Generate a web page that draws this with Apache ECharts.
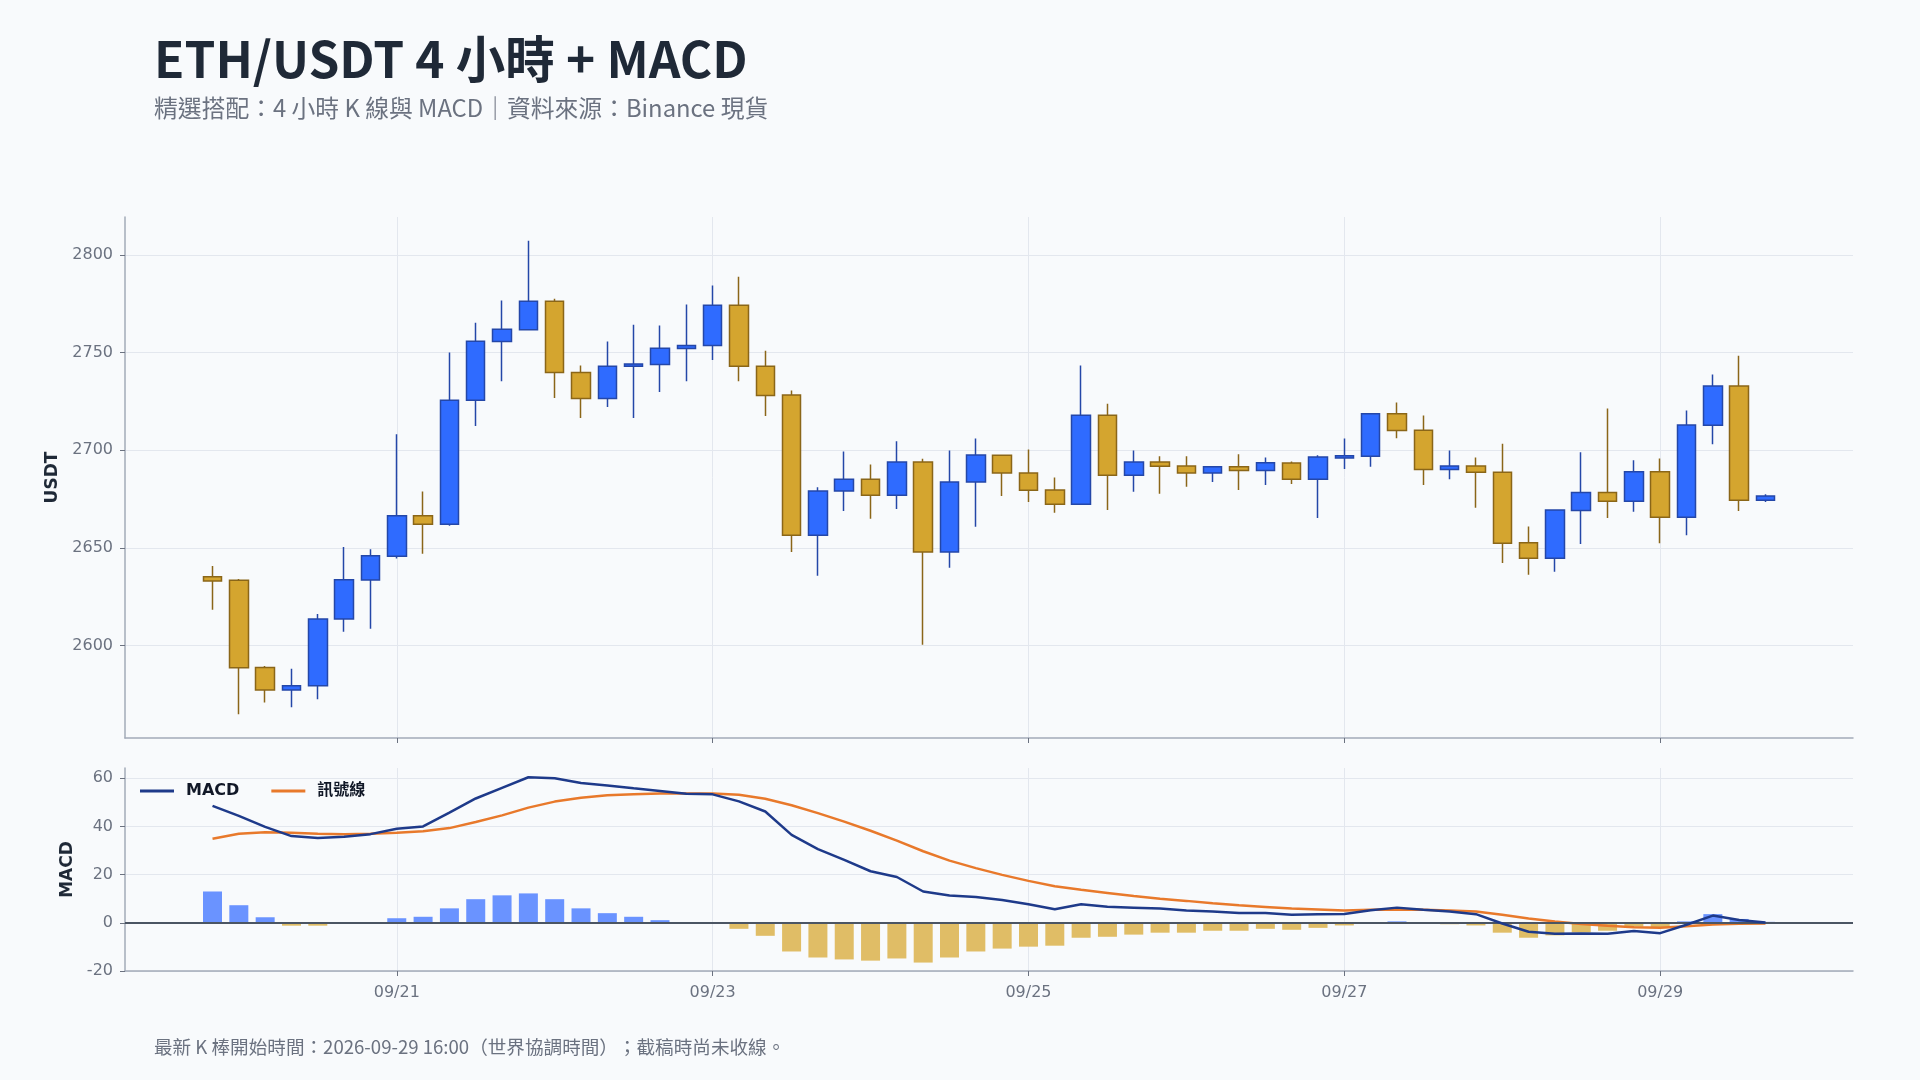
<!DOCTYPE html>
<html>
<head>
<meta charset="utf-8">
<script src="https://cdn.jsdelivr.net/npm/echarts@6/dist/echarts.min.js"></script>
<style>
html,body{margin:0;padding:0;background:#f8fafc;}
#chart{width:1920px;height:1080px;}
</style>
</head>
<body>
<div id="chart"></div>
<script>
// ---- data (4h candles, UTC) ----
const startTime = Date.UTC(2026, 8, 19, 20, 0, 0);
const stepMs = 4 * 3600 * 1000;

const opens  = [2635.2,2633.4,2588.7,2577.2,2579.4,2613.6,2633.5,2645.7,2666.4,2662.1,
                2725.6,2755.7,2761.8,2776.3,2739.9,2726.5,2743.0,2744.0,2752.1,2753.7,
                2774.3,2743.1,2728.3,2656.5,2679.1,2685.2,2676.9,2694.0,2647.9,2683.8,
                2697.4,2688.4,2679.6,2672.3,2718.0,2687.2,2694.0,2692.0,2688.3,2691.5,
                2689.7,2693.5,2685.2,2696.1,2696.9,2718.7,2710.3,2690.2,2692.0,2688.8,
                2652.6,2644.7,2669.2,2678.4,2673.9,2689.0,2665.7,2712.8,2732.9,2674.4];
const closes = [2633.0,2588.5,2577.2,2579.4,2613.6,2633.7,2645.9,2666.4,2662.1,2725.6,
                2755.9,2762.0,2776.3,2739.9,2726.5,2743.1,2744.2,2752.3,2753.7,2774.3,
                2743.0,2728.1,2656.5,2679.1,2685.2,2676.9,2694.0,2647.9,2683.8,2697.6,
                2688.3,2679.5,2672.3,2718.0,2687.2,2694.0,2691.8,2688.3,2691.5,2689.7,
                2693.6,2685.2,2696.5,2697.2,2718.7,2710.1,2690.2,2692.0,2688.8,2652.4,
                2644.7,2669.4,2678.4,2673.9,2689.0,2665.7,2713.0,2732.9,2674.4,2676.6];
const lows   = [2618.3,2564.7,2570.8,2568.3,2572.4,2607.0,2608.6,2644.5,2647.0,2661.3,
                2712.5,2735.4,2761.5,2726.8,2716.6,2722.2,2716.6,2729.9,2735.4,2746.2,
                2735.4,2717.5,2647.9,2635.7,2668.9,2664.9,2669.9,2600.4,2639.8,2660.8,
                2676.6,2673.5,2668.0,2672.0,2669.4,2678.7,2677.7,2681.3,2683.8,2679.6,
                2682.2,2682.7,2665.3,2690.4,2691.5,2706.2,2682.2,2685.2,2670.5,2642.3,
                2636.2,2637.7,2652.0,2665.3,2668.5,2652.4,2656.5,2703.1,2668.9,2673.5];
const highs  = [2640.7,2634.0,2589.5,2588.0,2616.1,2650.4,2649.3,2708.2,2678.9,2750.1,
                2765.4,2776.7,2807.4,2777.6,2743.5,2755.7,2764.3,2763.9,2774.7,2784.4,
                2788.9,2751.0,2730.6,2681.1,2699.4,2692.7,2704.6,2695.6,2699.9,2706.0,
                2697.8,2700.4,2686.1,2743.5,2723.9,2699.9,2696.9,2696.9,2691.8,2697.9,
                2696.3,2694.3,2697.4,2706.0,2719.0,2724.5,2717.8,2699.9,2696.3,2703.4,
                2661.0,2669.8,2699.0,2721.4,2694.9,2695.8,2720.4,2738.8,2748.5,2677.5];

const macdLine   = [48.5,44.4,39.8,36.0,35.2,35.7,36.8,39.0,40.0,45.7,
                    51.6,56.0,60.4,60.0,58.0,57.0,55.8,54.7,53.6,53.3,
                    50.4,46.2,36.5,30.6,26.1,21.4,19.0,13.0,11.3,10.7,
                    9.5,7.7,5.6,7.7,6.7,6.3,5.9,5.1,4.7,4.1,
                    4.1,3.3,3.6,3.7,5.2,6.3,5.4,4.7,3.6,-0.3,
                    -3.7,-4.5,-4.4,-4.5,-3.4,-4.3,-0.8,3.0,1.2,0.1];
const signalLine = [34.9,37.0,37.6,37.4,37.0,36.8,37.0,37.4,38.0,39.3,
                    41.8,44.6,47.8,50.3,51.9,52.9,53.4,53.7,53.7,53.7,
                    53.1,51.5,48.8,45.5,42.0,38.2,34.1,29.7,25.8,22.7,
                    19.9,17.4,15.2,13.7,12.4,11.1,10.0,9.1,8.1,7.3,
                    6.6,5.9,5.5,5.1,5.4,5.5,5.4,5.1,4.7,3.3,
                    1.8,0.5,-0.5,-1.2,-1.8,-2.1,-1.4,-0.7,-0.4,-0.3];
const histogram  = [13.0,7.3,2.3,-1.2,-1.2,-0.3,0.2,1.9,2.5,6.0,
                    9.8,11.4,12.2,9.8,6.0,4.0,2.5,1.1,-0.1,-0.4,
                    -2.5,-5.4,-11.9,-14.4,-15.2,-15.7,-14.8,-16.5,-14.4,-11.9,
                    -10.7,-9.9,-9.5,-6.2,-5.8,-4.9,-4.1,-4.1,-3.3,-3.3,
                    -2.5,-2.9,-2.1,-1.1,-0.2,0.6,0.0,-0.6,-1.1,-4.1,
                    -6.2,-5.2,-4.0,-3.3,-1.6,-2.2,0.6,3.6,1.6,0.4];

// tick labels
const xTickDates  = ['2026-09-21', '2026-09-23', '2026-09-25', '2026-09-27', '2026-09-29'];
const priceTicks  = [2600, 2650, 2700, 2750, 2800];
const macdTicks   = [-20, 0, 20, 40, 60];

const titleText  = 'ETH/USDT 4 小時 + MACD';
const subText    = '精選搭配：4 小時 K 線與 MACD｜資料來源：Binance 現貨';
const footerText = '最新 K 棒開始時間：2026-09-29 16:00（世界協調時間）；截稿時尚未收線。';

// ---- derived ----
const times = opens.map((_, i) => startTime + i * stepMs);
const candleData = times.map((t, i) => [t, opens[i], closes[i], lows[i], highs[i]]);
const macdData = times.map((t, i) => [t, macdLine[i]]);
const signalData = times.map((t, i) => [t, signalLine[i]]);
const histData = times.map((t, i) => [t, histogram[i]]);
const xTickValues = xTickDates.map(s => Date.parse(s + 'T00:00:00Z'));

const HOUR = 3600 * 1000;
const xPad = 13.3 * HOUR;
const xMin = times[0] - xPad;
const xMax = times[times.length - 1] + xPad;

const pLo = Math.min(...lows), pHi = Math.max(...highs);
const pPad = (pHi - pLo) * 0.05;
const allM = macdLine.concat(signalLine, histogram);
const mHi = Math.max(...allM), mLo = Math.min(...allM);
const mMax = mHi + (mHi - mLo) * 0.05;

const pad2 = n => (n < 10 ? '0' : '') + n;
const axisGray = '#a3abb8';
const gridGray = '#e3e7ee';
const labelGray = '#6b7280';
const cjk = '"Noto Sans CJK TC", "Noto Sans CJK SC", sans-serif';
const dv = '"DejaVu Sans", "Noto Sans CJK TC", sans-serif';

function xAxisCfg(idx, showLabel) {
  return {
    type: 'value', gridIndex: idx, min: xMin, max: xMax, scale: true,
    axisLine: { show: true, onZero: false, lineStyle: { color: axisGray, width: 1.5 } },
    axisTick: { show: true, length: 5, customValues: xTickValues, lineStyle: { color: '#6b7280' } },
    axisLabel: {
      show: showLabel, customValues: xTickValues, fontFamily: dv, fontSize: 16, color: labelGray, margin: 14,
      formatter: v => { const d = new Date(v); return pad2(d.getUTCMonth() + 1) + '/' + pad2(d.getUTCDate()); }
    },
    splitLine: { show: true, lineStyle: { color: gridGray, width: 1 } }
  };
}

function yAxisCfg(idx, mn, mx, name, gap, ticks) {
  return {
    type: 'value', gridIndex: idx, min: mn, max: mx,
    name: name, nameLocation: 'middle', nameGap: gap,
    nameTextStyle: { fontFamily: dv, fontSize: 17, fontWeight: 'bold', color: '#1f2937' },
    axisLine: { show: true, lineStyle: { color: axisGray, width: 1.5 } },
    axisTick: { show: true, length: 5, customValues: ticks, lineStyle: { color: '#6b7280' } },
    axisLabel: { customValues: ticks, fontFamily: dv, fontSize: 16, color: labelGray, margin: 12,
                 formatter: v => String(Math.round(v)) },
    splitLine: { show: true, lineStyle: { color: gridGray } }
  };
}

const chart = echarts.init(document.getElementById('chart'), null, { renderer: 'canvas' });
chart.setOption({
  animation: false,
  backgroundColor: '#f8fafc',
  title: [
    { text: titleText, left: 149, top: 29,
      textStyle: { fontFamily: cjk, fontSize: 49.5, fontWeight: 'bold', color: '#1f2937' } },
    { text: subText, left: 149, top: 91,
      textStyle: { fontFamily: cjk, fontSize: 23.8, fontWeight: 'normal', color: '#6b7280' } },
    { text: footerText, left: 149, top: 1033,
      textStyle: { fontFamily: cjk, fontSize: 18.6, fontWeight: 'normal', color: '#6b7280' } }
  ],
  legend: {
    data: ['MACD', '訊號線'], left: 135, top: 778,
    icon: 'rect', itemWidth: 34, itemHeight: 3, itemGap: 32,
    textStyle: { fontFamily: dv, fontSize: 16, fontWeight: 'bold', color: '#111827', padding: [0, 0, 0, 7] }
  },
  grid: [
    { left: 125, right: 67, top: 217, height: 521 },
    { left: 125, right: 67, top: 768, height: 203 }
  ],
  xAxis: [xAxisCfg(0, false), xAxisCfg(1, true)],
  yAxis: [
    yAxisCfg(0, pLo - pPad, pHi + pPad, 'USDT', 60, priceTicks),
    yAxisCfg(1, -20, mMax, 'MACD', 44, macdTicks)
  ],
  series: [
    {
      name: 'K', type: 'candlestick', xAxisIndex: 0, yAxisIndex: 0,
      data: candleData, barWidth: 19,
      itemStyle: {
        color: '#2f6bff', color0: '#d4a52f',
        borderColor: '#2447a8', borderColor0: '#8a6618', borderWidth: 1.5
      }
    },
    {
      name: '柱狀', type: 'bar', xAxisIndex: 1, yAxisIndex: 1,
      data: histData, barWidth: 19,
      itemStyle: { color: p => (p.value[1] >= 0 ? '#6a93ff' : '#e0bd66') },
      markLine: {
        silent: true, symbol: 'none', label: { show: false },
        lineStyle: { color: '#4b5563', width: 2, type: 'solid' },
        data: [{ yAxis: 0 }]
      }
    },
    {
      name: 'MACD', type: 'line', xAxisIndex: 1, yAxisIndex: 1,
      data: macdData, symbol: 'none', z: 5,
      lineStyle: { color: '#1e3a8a', width: 2.5 }, itemStyle: { color: '#1e3a8a' }
    },
    {
      name: '訊號線', type: 'line', xAxisIndex: 1, yAxisIndex: 1,
      data: signalData, symbol: 'none', z: 4,
      lineStyle: { color: '#e8792b', width: 2.5 }, itemStyle: { color: '#e8792b' }
    }
  ]
});
</script>
</body>
</html>
